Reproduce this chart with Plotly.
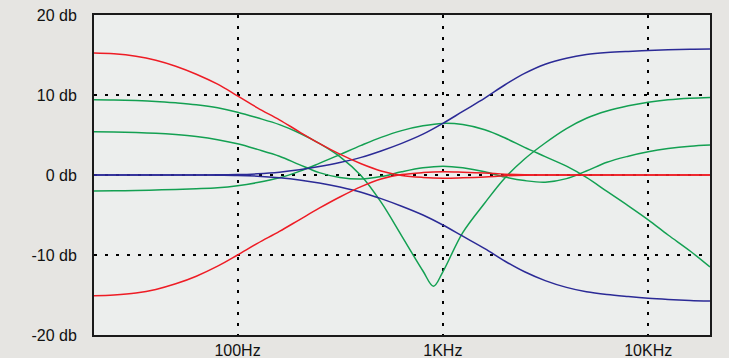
import math
import plotly.graph_objects as go

# ---- data (frequency in Hz, gain in db) ----
freq = [20, 25, 32, 40, 50, 63, 80, 100, 125, 160, 200, 250, 315, 400, 500,
        630, 800, 1000, 1250, 1600, 2000, 2500, 3150, 4000, 5000, 6300, 8000,
        10000, 12500, 16000, 20000]

red_boost_db = [15.25, 15.15, 14.85, 14.35, 13.6, 12.6, 11.35, 9.9, 8.4, 6.9, 5.4, 3.95, 2.6,
                1.4, 0.5, -0.05, -0.3, -0.4, -0.35, -0.25, -0.1, -0.02, 0.0, 0.0, 0.0, 0.0, 0.0,
                0.0, 0.0, 0.0, 0.0]
red_cut_db = [-15.1, -15.0, -14.75, -14.3, -13.6, -12.65, -11.4, -10.0, -8.55, -7.05, -5.6, -4.15, -2.75,
              -1.45, -0.5, 0.05, 0.3, 0.4, 0.35, 0.25, 0.1, 0.02, 0.0, 0.0, 0.0, 0.0, 0.0,
              0.0, 0.0, 0.0, 0.0]

blue_boost_db = [0.0, 0.0, 0.0, 0.0, 0.0, 0.0, 0.02, 0.05, 0.15, 0.35, 0.65, 1.05, 1.55,
                 2.2, 3.0, 3.95, 5.1, 6.45, 7.95, 9.6, 11.25, 12.7, 13.85, 14.6, 15.05, 15.3, 15.45,
                 15.55, 15.65, 15.72, 15.75]
blue_cut_db = [0.0, 0.0, 0.0, 0.0, 0.0, 0.0, -0.02, -0.05, -0.15, -0.35, -0.62, -1.0, -1.5,
               -2.15, -2.95, -3.9, -5.0, -6.25, -7.65, -9.2, -10.75, -12.1, -13.2, -14.05, -14.6, -14.95, -15.2,
               -15.4, -15.55, -15.68, -15.75]

notch_freq = [20, 25, 32, 40, 50, 63, 80, 100, 125, 160, 200, 250, 315, 400, 500,
              630, 800, 900, 1000, 1250, 1600, 2000, 2500, 3150, 4000, 5000, 6300, 8000,
              10000, 12500, 16000, 20000]
green_notch_db = [9.4, 9.37, 9.3, 9.2, 9.02, 8.78, 8.4, 7.85, 7.15, 6.3, 5.25, 3.95, 2.3,
                  -0.1, -3.4, -7.6, -12.0, -13.9, -12.1, -7.2, -3.5, -0.4, 2.0, 4.0, 5.8, 7.1, 8.0, 8.65,
                  9.1, 9.4, 9.6, 9.7]

green_wave_db = [5.4, 5.38, 5.32, 5.22, 5.05, 4.8, 4.42, 3.9, 3.2, 2.35, 1.3, 0.3, -0.3,
                 -0.5, -0.2, 0.4, 0.9, 1.1, 0.9, 0.4, -0.25, -0.7, -0.9, -0.45, 0.5, 1.6, 2.35,
                 2.9, 3.3, 3.6, 3.75]

green_peak_db = [-2.0, -1.98, -1.93, -1.87, -1.8, -1.72, -1.6, -1.35, -0.95, -0.35, 0.45, 1.45, 2.55,
                 3.7, 4.7, 5.55, 6.15, 6.45, 6.3, 5.65, 4.65, 3.45, 2.3, 1.1, -0.3, -2.05, -3.85,
                 -5.6, -7.5, -9.5, -11.5]

x_tick_vals = [100, 1000, 10000]
x_tick_text = ["100Hz", "1KHz", "10KHz"]
y_tick_vals = [-20, -10, 0, 10, 20]
y_tick_text = ["-20 db", "-10 db", "0 db", "10 db", "20 db"]

RED = "#ee1c25"
BLUE = "#2b2a96"
GREEN = "#13a052"

series = [
    (notch_freq, green_notch_db, GREEN),
    (freq, green_wave_db, GREEN),
    (freq, green_peak_db, GREEN),
    (freq, blue_boost_db, BLUE),
    (freq, blue_cut_db, BLUE),
    (freq, red_boost_db, RED),
    (freq, red_cut_db, RED),
]

fig = go.Figure()
for f, db, c in series:
    fig.add_trace(go.Scatter(
        x=f, y=db, mode="lines",
        line=dict(color=c, width=1.5, shape="spline", smoothing=1.0),
        hoverinfo="skip", showlegend=False,
    ))

font = dict(family="Liberation Sans, Arial, sans-serif", size=16, color="#111111")

fig.update_layout(
    width=729, height=358,
    margin=dict(l=94, r=19, t=15, b=23, autoexpand=False),
    paper_bgcolor="#e6e5e2",
    plot_bgcolor="#eceeed",
    font=font,
    showlegend=False,
)
fig.update_xaxes(
    type="log",
    range=[math.log10(20), math.log10(20000)],
    tickvals=x_tick_vals, ticktext=x_tick_text,
    showgrid=True, gridcolor="#000000", gridwidth=2, griddash="3px,8px",
    showline=True, linecolor="#1a1a1a", linewidth=2, mirror=True,
    ticks="", ticklabelstandoff=0, automargin=False,
    zeroline=False, fixedrange=True,
)
fig.update_yaxes(
    range=[-20, 20],
    tickvals=y_tick_vals, ticktext=y_tick_text,
    showgrid=True, gridcolor="#000000", gridwidth=2, griddash="3px,8px",
    showline=True, linecolor="#1a1a1a", linewidth=2, mirror=True,
    ticks="", ticklabelstandoff=12, automargin=False,
    zeroline=False, fixedrange=True,
)

fig.write_html("out.html", config={"displayModeBar": False},
               post_script="document.body.style.margin='0';")
